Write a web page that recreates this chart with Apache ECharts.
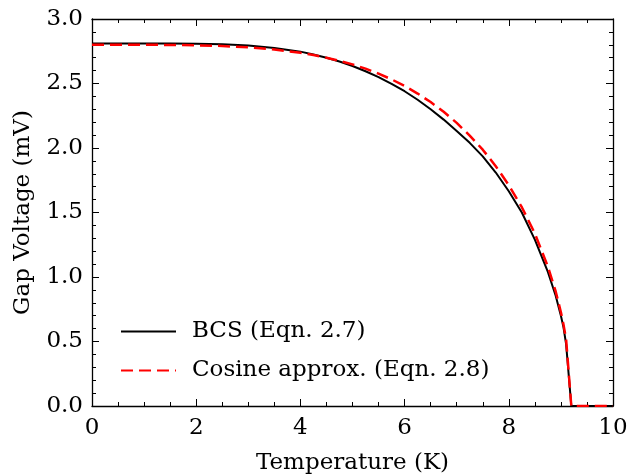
<!DOCTYPE html>
<html>
<head>
<meta charset="utf-8">
<script src="https://cdn.jsdelivr.net/npm/echarts@6/dist/echarts.min.js"></script>
<style>html,body{margin:0;padding:0;background:#fff;}#c{width:627px;height:475px;}</style>
</head>
<body>
<div id="c"></div>
<script>
// Temperature (K) and gap voltage (mV)
const bcsT = [0, 0.5, 1, 1.5, 2, 2.5, 3, 3.5, 4, 4.25, 4.5, 4.75, 5, 5.25, 5.5, 5.75, 6, 6.25, 6.5, 6.75, 7, 7.25, 7.5, 7.75, 8, 8.25, 8.5, 8.75, 8.9, 9.0, 9.05, 9.1, 9.2, 10];
const bcsV = [2.81, 2.81, 2.81, 2.81, 2.809, 2.805, 2.795, 2.776, 2.747, 2.725, 2.700, 2.670, 2.636, 2.595, 2.550, 2.497, 2.440, 2.374, 2.300, 2.220, 2.132, 2.040, 1.935, 1.810, 1.665, 1.500, 1.290, 1.040, 0.855, 0.700, 0.610, 0.480, 0, 0];
const cosT = [0, 0.5, 1, 1.5, 2, 2.5, 3, 3.5, 4, 4.25, 4.5, 4.75, 5, 5.25, 5.5, 5.75, 6, 6.25, 6.5, 6.75, 7, 7.25, 7.5, 7.75, 8, 8.25, 8.5, 8.75, 8.9, 9.0, 9.05, 9.1, 9.2, 10];
const cosV = [2.80, 2.80, 2.80, 2.799, 2.796, 2.791, 2.780, 2.764, 2.738, 2.721, 2.700, 2.676, 2.648, 2.615, 2.576, 2.532, 2.481, 2.422, 2.356, 2.281, 2.195, 2.096, 1.987, 1.859, 1.712, 1.541, 1.337, 1.081, 0.888, 0.727, 0.631, 0.516, 0, 0];
const seriesNames = ['BCS (Eqn. 2.7)', 'Cosine approx. (Eqn. 2.8)'];
const xTicks = [0, 2, 4, 6, 8, 10];
const yTicks = [0.0, 0.5, 1.0, 1.5, 2.0, 2.5, 3.0];

const FONT = 'DejaVu Serif';
const FS = 23;
const chart = echarts.init(document.getElementById('c'), null, {renderer: 'canvas'});
const axisCommon = {
  axisLine: {show: true, onZero: false, lineStyle: {color: '#000', width: 1.3}},
  axisTick: {show: true, inside: true, length: 7, lineStyle: {color: '#000', width: 1}},
  minorTick: {show: true, length: 4, lineStyle: {color: '#000', width: 1}},
  splitLine: {show: false}
};
const xBase = Object.assign({}, axisCommon, {type: 'value', min: xTicks[0], max: xTicks[xTicks.length-1], interval: xTicks[1]-xTicks[0]});
xBase.minorTick = Object.assign({}, axisCommon.minorTick, {splitNumber: 4});
const yBase = Object.assign({}, axisCommon, {type: 'value', min: yTicks[0], max: yTicks[yTicks.length-1], interval: yTicks[1]-yTicks[0]});
yBase.minorTick = Object.assign({}, axisCommon.minorTick, {splitNumber: 5});

chart.setOption({
  animation: false,
  backgroundColor: '#fff',
  grid: {left: 92, right: 14, top: 19, bottom: 69, containLabel: false, outerBoundsMode: 'none'},
  legend: {
    orient: 'vertical', left: 115, top: 315,
    itemWidth: 55, itemHeight: 22, itemGap: 16,
    itemStyle: {opacity: 0},
    textStyle: {fontFamily: FONT, fontSize: FS, color: '#000', padding: [0, 0, 0, 11]},
    data: seriesNames
  },
  xAxis: [
    Object.assign({}, xBase, {
      position: 'bottom', name: 'Temperature (K)', nameLocation: 'middle', nameGap: 46,
      nameTextStyle: {fontFamily: FONT, fontSize: FS, color: '#000'},
      axisLabel: {fontFamily: FONT, fontSize: FS, color: '#000', margin: 11, formatter: v => String(v)}
    }),
    Object.assign({}, xBase, {position: 'top', axisLabel: {show: false}})
  ],
  yAxis: [
    Object.assign({}, yBase, {
      position: 'left', name: 'Gap Voltage (mV)', nameLocation: 'middle', nameGap: 57,
      nameTextStyle: {fontFamily: FONT, fontSize: FS, color: '#000'},
      axisLabel: {fontFamily: FONT, fontSize: FS, color: '#000', margin: 9, formatter: v => v.toFixed(1)}
    }),
    Object.assign({}, yBase, {position: 'right', axisLabel: {show: false}})
  ],
  series: [
    {name: seriesNames[0], type: 'line', xAxisIndex: 0, yAxisIndex: 0, symbol: 'none',
     lineStyle: {color: '#000', width: 2}, itemStyle: {color: '#000'},
     data: bcsT.map((t, i) => [t, bcsV[i]]), z: 2},
    {name: seriesNames[1], type: 'line', xAxisIndex: 0, yAxisIndex: 0, symbol: 'none',
     lineStyle: {color: '#ff0000', width: 2.5, type: [12, 6]}, itemStyle: {color: '#ff0000'},
     data: cosT.map((t, i) => [t, cosV[i]]), z: 3}
  ]
});
</script>
</body>
</html>
